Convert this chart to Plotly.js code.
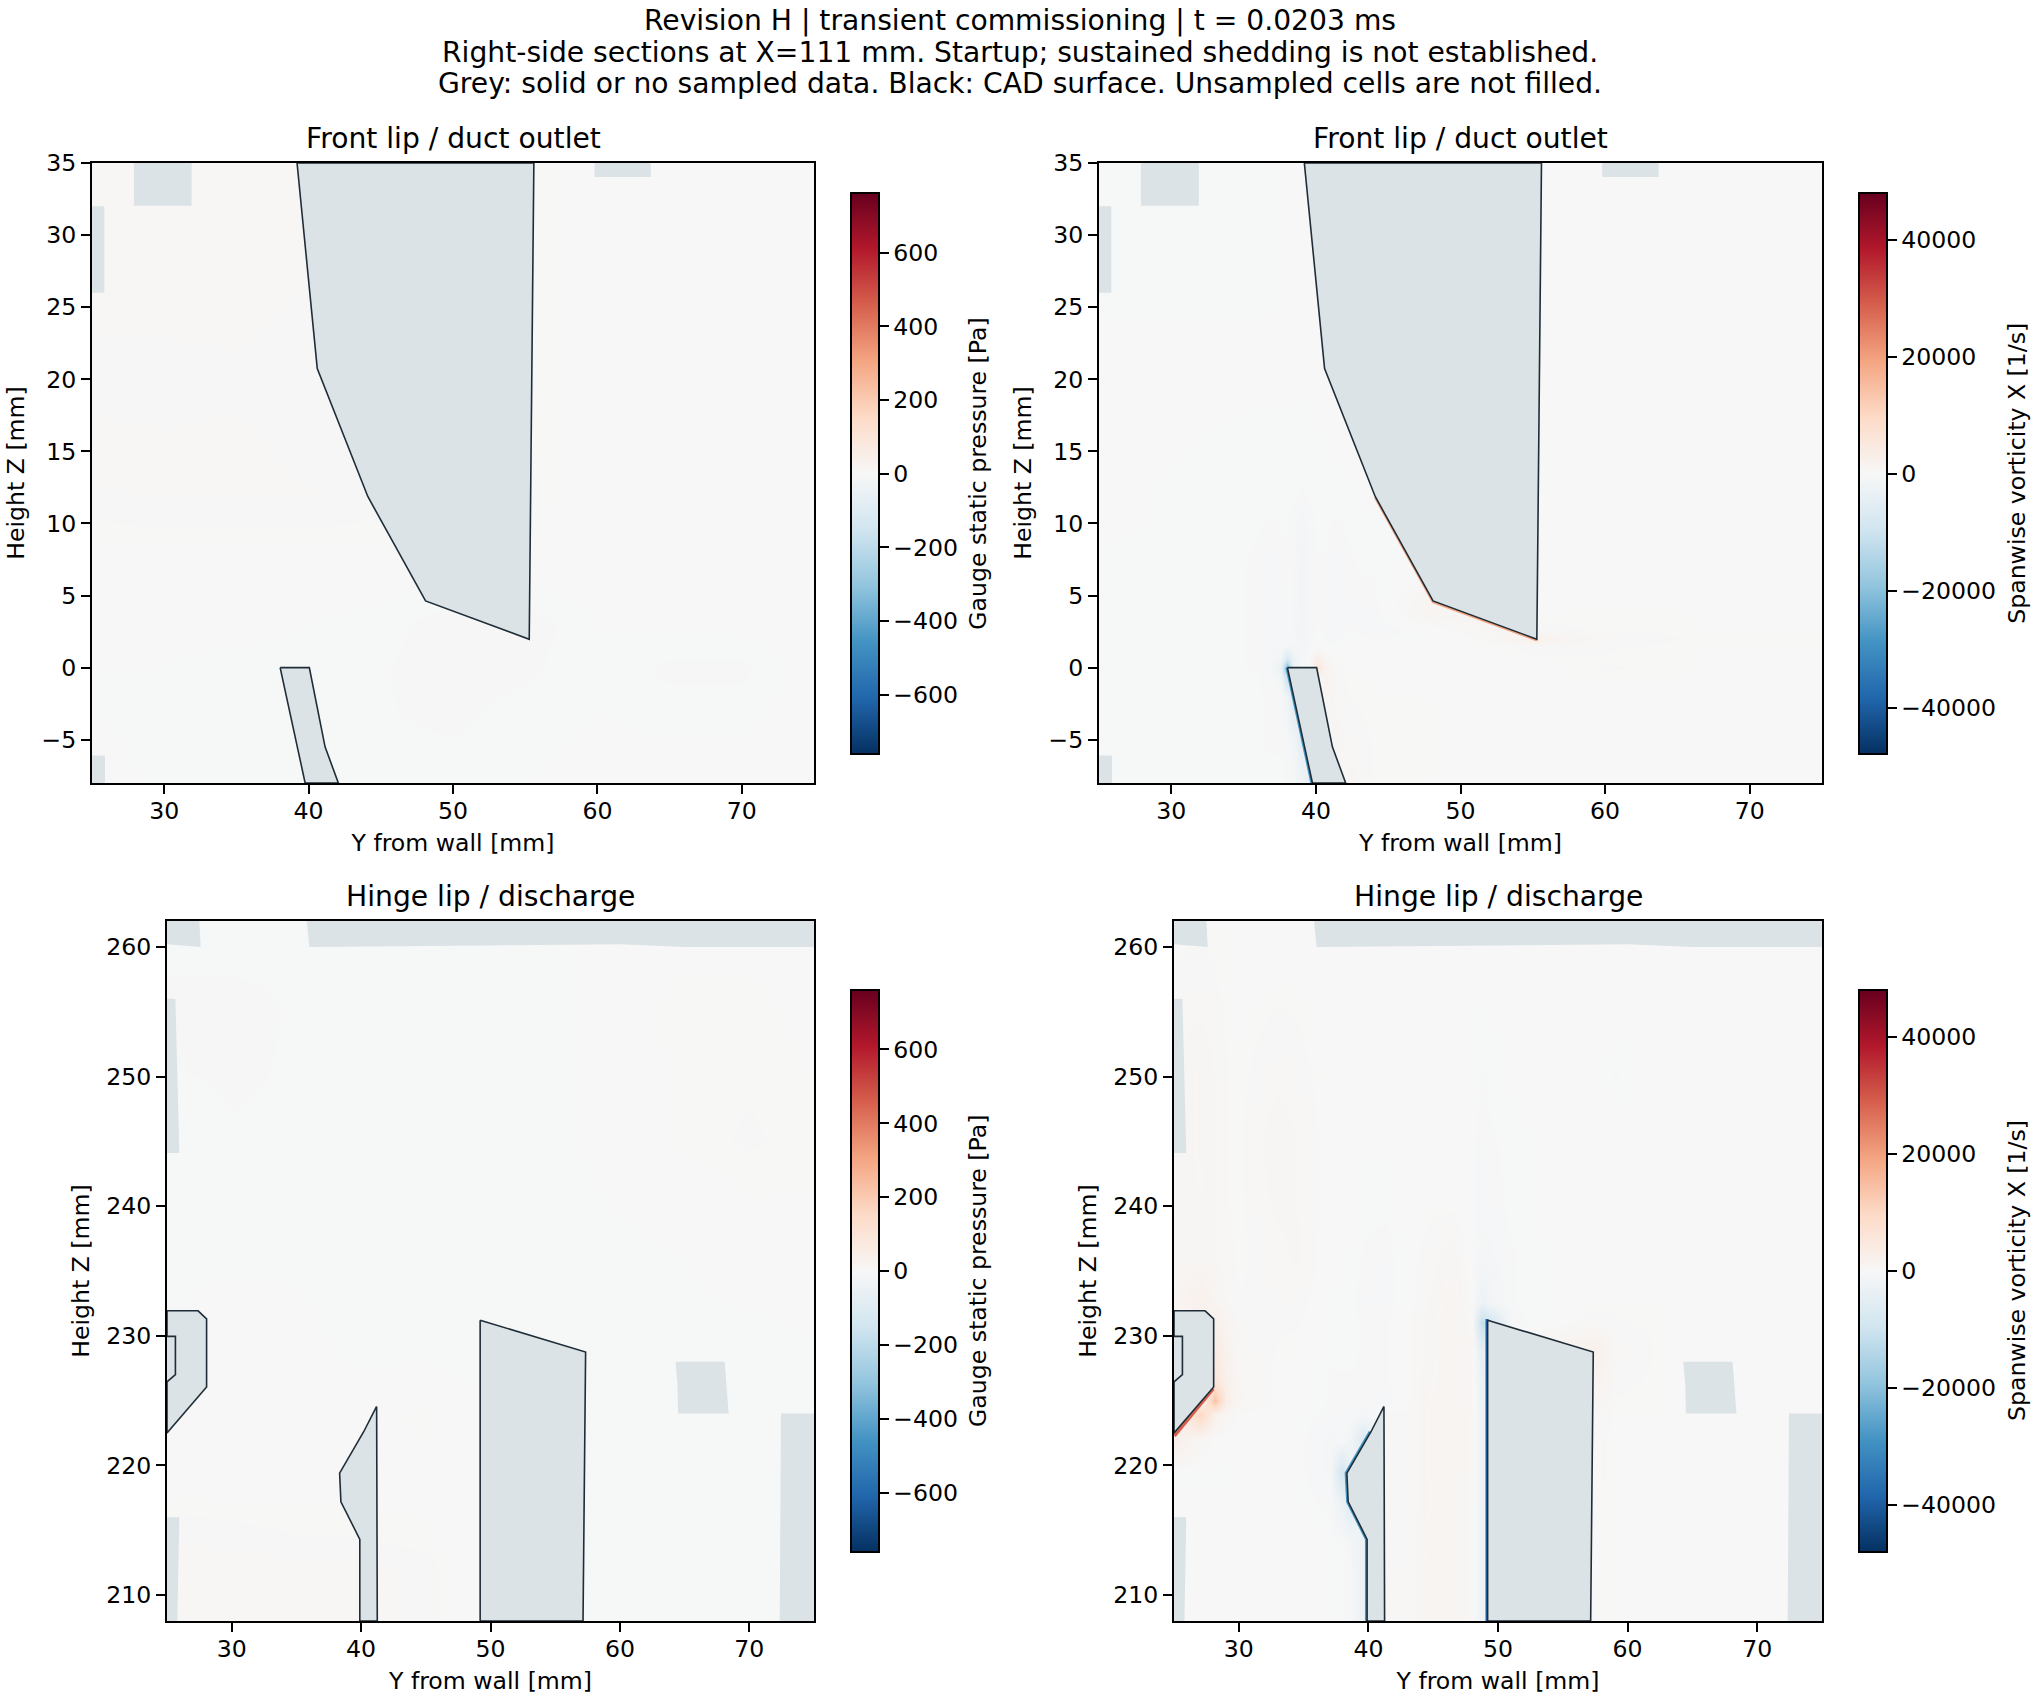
<!DOCTYPE html>
<html><head><meta charset="utf-8">
<script src="https://cdn.plot.ly/plotly-3.0.1.min.js"></script>
<style>html,body{margin:0;padding:0;background:#fff}</style></head>
<body><div id="chart" style="width:2040px;height:1700px"></div>
<script>
const titleLines = ["Revision H | transient commissioning | t = 0.0203 ms",
 "Right-side sections at X=111 mm. Startup; sustained shedding is not established.",
 "Grey: solid or no sampled data. Black: CAD surface. Unsampled cells are not filled."];
const frontTitle = "Front lip / duct outlet";
const hingeTitle = "Hinge lip / discharge";
const xLabel = "Y from wall [mm]";
const yLabel = "Height Z [mm]";
const pressureLabel = "Gauge static pressure [Pa]";
const vorticityLabel = "Spanwise vorticity X [1/s]";
const xTicks = [30,40,50,60,70];
const frontZTicks = [-5,0,5,10,15,20,25,30,35];
const hingeZTicks = [210,220,230,240,250,260];
const pressureTicks = [-600,-400,-200,0,200,400,600];
const vorticityTicks = [-40000,-20000,0,20000,40000];
const vorticityTickText = ["−40000","−20000","0","20000","40000"];
const pressureLimit = 761;
const vorticityLimit = 48000;
const rdbuStops = ["#053061","#2166ac","#4393c3","#92c5de","#d1e5f0","#f7f7f7","#fddbc7","#f4a582","#d6604d","#b2182b","#67001f"];

// CAD surfaces, [Y mm], [Z mm]
const frontDuctY = [39.2,40.6,44.1,48.1,55.28,55.6,39.2];
const frontDuctZ = [35,20.75,11.87,4.63,1.97,35,35];
const frontLipY = [38.03,40.05,41.14,42.06,39.76,38.03];
const frontLipZ = [0,0,-5.49,-8,-8,0];
const hingeCoveY = [25,27.4,28.06,28.06,25,25];
const hingeCoveZ = [231.93,231.93,231.3,226.05,222.5,231.93];
const hingeInnerY = [25,25.65,25.65,25];
const hingeInnerZ = [229.96,229.96,227,226.45];
const hingeLipY = [41.2,40.2,38.34,38.44,39.9,39.9,41.25,41.2];
const hingeLipZ = [224.55,222.6,219.4,217.2,214.3,208,208,224.55];
const hingeBlockY = [49.2,57.35,57.15,49.2,49.2];
const hingeBlockZ = [231.2,228.75,208,208,231.2];

// Unsampled patches
const frontGapY = [27.9,31.9,31.9,27.9,27.9,null,25,25.85,25.85,25,25,null,59.8,63.7,63.7,59.8,59.8,null,25,25.9,25.9,25,25];
const frontGapZ = [35,35,32.04,32.04,35,null,32,32,26,26,32,null,35,35,34.03,34.03,35,null,-6.1,-6.1,-8,-8,-6.1];
const hingeGapY = [25,27.5,27.6,26,25,25,null,35.8,75,75,65,60,50,36,35.8,null,25,25.65,25.95,25,25,null,25,25.95,25.8,25,25,null,64.3,68.1,68.4,64.5,64.45,64.3,null,72.45,75,75,72.35,72.45];
const hingeGapZ = [262,262,260,260.1,260.2,262,null,262,262,260,260,260.2,260.1,260,262,null,256,256,244.1,244.1,256,null,216,216,208,208,216,null,228,228,224,224,226.2,228,null,224,224,208,208,224];

// Pressure fields
const pressFrontY = [25,30,35,40,45,50,55,60,65,70,75];
const pressFrontZ = [-8,-3,0,3,8,12,14,20,28,35];
const pressFrontVal = [
 [0,-3,-3,-3,-3,-3,-2,-1,0,0,0],
 [-2,-3,-3,-3,-4,-5,-3,-2,-3,-3,0],
 [-2,-2,-3,-3,-4,-6,-5,-2,-5,-5,0],
 [0,-1,-1,-2,-3,-6,-6,-2,-1,-1,0],
 [1,1,1,1,1,1,1,1,1,0,0],
 [4,5,5,5,4,2,2,1,1,1,0],
 [7,6,6,4,3,2,2,1,1,1,0],
 [3,3,4,3,2,2,2,1,1,1,1],
 [8,8,7,5,3,2,2,1,1,1,1],
 [8,8,7,5,3,2,2,1,1,1,1]];
const pressHingeY = [25,30,35,40,45,50,55,60,65,70,75];
const pressHingeZ = [208,212,214,218,224,230,236,245,255,262];
const pressHingeVal = [
 [7,7,6,6,4,-2,-2,-3,-3,-3,-3],
 [7,7,6,6,4,-2,-2,-3,-3,-3,-3],
 [5,4,3,3,2,-2,-2,-3,-3,-3,-3],
 [1,1,1,1,1,-2,-2,-3,-3,-3,-3],
 [-2,-2,-1,1,2,-2,-2,-3,-3,-3,-3],
 [-2,1,0,-4,-4,-4,-4,-3,-3,-3,-2],
 [-3,-3,-3,-4,-4,-4,-4,-3,-2,0,1],
 [-3,-4,-4,-4,-4,-4,-3,0,2,3,2],
 [-5,-5,-4,-4,-4,-4,-3,1,2,2,1],
 [-3,-3,-4,-4,-4,-4,-3,1,1,1,1]];

// Vorticity fields
const vortFrontY = [25,32,36,36.8,37.6,38,38.4,39,39.6,40.1,40.6,41.4,42.4,44,48,52,55.3,57,60,66,75];
const vortFrontZ = [-8,-5,-2,-0.6,0,0.6,1.5,2,2.6,4,7,10,12,20,28,35];
const vortFrontVal = [
 [-150,-150,-200,-200,-200,-300,-500,-2000,-5000,0,0,0,700,150,100,100,100,100,100,100,100],
 [-150,-150,-250,-300,-300,-500,-1500,-5000,0,0,0,800,300,150,100,100,100,100,100,100,100],
 [-150,-150,-250,-300,-600,-2000,-7000,0,0,0,1200,300,150,100,100,100,100,100,100,100,100],
 [-150,-150,-250,-400,-1500,-12000,0,0,0,500,1500,300,100,100,100,100,100,100,100,100,100],
 [-150,-150,-300,-500,-4000,-22000,-2000,-800,-300,6000,2000,200,100,100,100,100,100,100,200,100,100],
 [-150,-150,-300,-500,-1500,-8000,-3000,-800,500,3000,800,100,50,50,50,50,100,100,150,100,100],
 [-150,-150,-300,-400,-500,-800,-800,-1000,-400,100,-200,-200,-100,-50,0,100,300,300,200,100,100],
 [-150,-150,-300,-400,-400,-500,-600,-1200,-400,-100,-300,-400,-100,-300,-100,200,2500,1000,400,150,100],
 [-150,-150,-300,-400,-400,-500,-600,-1300,-400,-200,-300,-600,-300,-500,-100,600,300,200,150,100,100],
 [-150,-150,-300,-500,-400,-400,-600,-1500,-500,-300,-400,-700,-400,-400,1200,500,0,100,100,100,100],
 [-150,-150,-300,-500,-300,-300,-600,-1500,-500,-300,-300,-500,-300,-200,0,0,0,100,100,100,100],
 [-100,-150,-250,-300,-250,-250,-400,-1000,-400,-200,-200,-300,-200,-200,0,0,0,100,100,100,100],
 [-100,-150,-200,-200,-200,-200,-200,-300,-200,-200,-200,-200,-150,200,0,0,0,100,100,100,100],
 [-100,-100,-100,-100,-100,-100,-100,-100,-100,-100,100,100,0,0,0,0,0,100,100,100,100],
 [-150,-150,-150,-150,-100,-100,-100,-100,-100,-100,-100,-50,0,0,0,0,0,100,100,100,100],
 [-150,-150,-150,-150,-100,-100,-100,-100,-100,-100,-100,-50,0,0,0,0,0,50,50,100,100]];
const vortHingeY = [25,27,28.2,29,30,33,34.5,37,38,38.6,39.6,41.4,43,44.5,46.5,48,48.8,49.4,51,57.3,58,59,63,75];
const vortHingeZ = [208,214,217,219.5,222,224,225,226.5,229,231,232.5,236,240,245,250,257,262];
const vortHingeVal = [
 [100,100,100,100,50,100,100,-100,-200,-400,-3000,500,200,1000,1100,300,-2500,0,0,0,150,100,100,100],
 [100,100,100,100,50,100,100,-100,-200,-800,-3000,400,200,900,1200,300,-2500,0,0,0,150,100,100,100],
 [-100,-100,-100,-100,-100,-50,-50,-400,-3000,-6000,0,400,200,800,1100,300,-2500,0,0,0,150,100,100,100],
 [-150,-150,-150,-150,-100,-100,-100,-800,-9000,-3000,0,400,200,800,1200,400,-2500,0,0,0,200,100,100,100],
 [3000,600,0,-50,-100,-100,-100,-800,-500,-1500,-7000,400,200,800,1200,400,-2500,0,0,0,200,100,100,100],
 [0,10000,2500,600,100,0,-50,-400,-300,-400,-800,300,200,800,1200,400,-2500,0,0,0,400,100,100,100],
 [0,0,14000,3500,600,100,0,-300,-300,-300,-300,-500,100,800,1200,500,-3000,0,0,500,800,150,100,100],
 [0,0,6000,2500,500,100,0,-300,-300,-300,-300,-300,100,700,1200,500,-3500,0,0,1000,1400,250,100,100],
 [0,0,4000,2000,400,150,100,-200,-200,-200,-300,-300,100,600,1200,500,-5000,0,0,2500,2000,400,100,100],
 [0,0,3000,1200,300,200,200,-200,-200,-200,-300,-300,100,600,1200,300,-12000,-9000,-400,300,300,200,100,100],
 [1000,2500,1200,500,200,300,300,-100,-200,-200,-400,-400,0,500,1100,0,-3000,-1500,-300,100,100,100,100,100],
 [600,700,500,300,100,400,600,-100,-100,-100,-300,-400,0,300,800,-200,-1000,-800,-300,100,100,100,100,100],
 [500,800,500,200,100,600,500,0,-100,-100,-200,-200,0,100,100,-200,-500,-400,-200,100,100,50,100,100],
 [500,900,500,200,100,800,500,0,-100,-100,-100,-100,0,50,50,-200,-400,-300,-200,100,100,50,100,100],
 [500,900,500,200,100,400,300,0,-50,-50,-50,-50,0,0,0,-100,-300,-200,-100,0,-100,-300,100,100],
 [200,300,200,100,50,100,100,0,0,0,0,0,0,0,0,-50,-100,-100,0,100,100,50,100,100],
 [100,100,100,100,50,50,50,0,0,0,0,0,0,0,0,0,0,0,50,100,100,100,100,100]];

// Sharp shear layers hugging the surfaces (vorticity panels)
const frontShearRedY = [44.1,48.1,55.28], frontShearRedZ = [11.8,4.55,1.9];
const frontShearBlueY = [38.0,39.72], frontShearBlueZ = [0,-8];
const hingeShearRedY = [25,28.0], hingeShearRedZ = [222.3,225.95];
const hingeShearBlueAY = [49.15,49.15], hingeShearBlueAZ = [208,231.3];
const hingeShearBlueBY = [39.85,39.85,38.4,38.28,40.13], hingeShearBlueBZ = [208,214.3,217.2,219.4,222.6];

const GREY = "#dbe3e6", EDGE = "#1f2d38", TEXT = "#000", FONT = "DejaVu Sans, sans-serif";
const TICKPX = 23.6, HEADPX = 28.2;
const W = 2040, H = 1700;
const colorscale = rdbuStops.map((c,i)=>[i/(rdbuStops.length-1),c]);
const panels = [
 {id:"", l:92,r:814,t:163,b:783, zr:[-8,35], zt:frontZTicks, title:frontTitle, kind:"p", fx:pressFrontY,fy:pressFrontZ,fz:pressFrontVal, hinge:false, cb:[851,879,193.5,754], cbt:978},
 {id:"2", l:1099,r:1822,t:163,b:783, zr:[-8,35], zt:frontZTicks, title:frontTitle, kind:"v", fx:vortFrontY,fy:vortFrontZ,fz:vortFrontVal, hinge:false, cb:[1859,1887,193.5,754], cbt:2017},
 {id:"3", l:167,r:814,t:921,b:1621, zr:[208,262], zt:hingeZTicks, title:hingeTitle, kind:"p", fx:pressHingeY,fy:pressHingeZ,fz:pressHingeVal, hinge:true, cb:[851,879,990,1552], cbt:978},
 {id:"4", l:1174,r:1822,t:921,b:1621, zr:[208,262], zt:hingeZTicks, title:hingeTitle, kind:"v", fx:vortHingeY,fy:vortHingeZ,fz:vortHingeVal, hinge:true, cb:[1859,1887,990,1552], cbt:2017}];

const data = [], annotations = [], layout = {
 width:W,height:H,autosize:false,margin:{l:0,r:0,t:0,b:0},
 paper_bgcolor:"#fff",plot_bgcolor:GREY,showlegend:false,hovermode:false,
 font:{family:FONT,size:TICKPX,color:TEXT}
};
const titleLineY = [21,52,83];
titleLines.forEach((t,i)=>annotations.push({xref:"paper",yref:"paper",x:0.5,y:1-titleLineY[i]/H,text:t,showarrow:false,xanchor:"center",yanchor:"middle",font:{family:FONT,size:HEADPX,color:TEXT}}));
panels.forEach(p=>{
 const xa="x"+p.id, ya="y"+p.id, lim=p.kind==="p"?pressureLimit:vorticityLimit;
 const common={xaxis:xa,yaxis:ya,hoverinfo:"skip"};
 data.push({...common,type:"heatmap",x:p.fx,y:p.fy,z:p.fz,zmin:-lim,zmax:lim,zsmooth:"best",colorscale,showscale:true,
  colorbar:{x:p.cb[0]/W,xanchor:"left",xpad:0,ypad:0,y:1-(p.cb[2]+p.cb[3])/2/H,yanchor:"middle",
   lenmode:"pixels",len:p.cb[3]-p.cb[2],thicknessmode:"pixels",thickness:p.cb[1]-p.cb[0],
   outlinewidth:2,outlinecolor:"#000",borderwidth:0,ticks:"outside",ticklen:9,tickwidth:2,tickcolor:"#000",
   tickmode:"array",tickvals:p.kind==="p"?pressureTicks:vorticityTicks,
   ticktext:p.kind==="p"?pressureTicks.map(v=>String(v).replace("-","−")):vorticityTickText,
   tickfont:{family:FONT,size:TICKPX,color:TEXT}}});
 const fillT=(x,y)=>({...common,type:"scatter",mode:"lines",x,y,fill:"toself",fillcolor:GREY,line:{width:0,color:GREY}});
 const solid=(x,y)=>({...common,type:"scatter",mode:"lines",x,y,fill:"toself",fillcolor:GREY,line:{width:1.6,color:EDGE}});
 const shear=(x,y,c,w)=>({...common,type:"scatter",mode:"lines",x,y,line:{width:w,color:c}});
 data.push(fillT(p.hinge?hingeGapY:frontGapY,p.hinge?hingeGapZ:frontGapZ));
 if(p.kind==="v"){
  if(!p.hinge){data.push(shear(frontShearRedY,frontShearRedZ,"#f4a582",2.5),shear(frontShearBlueY,frontShearBlueZ,"#4393c3",3));}
  else{data.push(shear(hingeShearRedY,hingeShearRedZ,"#d6604d",4.5),shear(hingeShearBlueAY,hingeShearBlueAZ,"#2166ac",3),shear(hingeShearBlueBY,hingeShearBlueBZ,"#4393c3",3));}
 }
 if(!p.hinge){data.push(solid(frontDuctY,frontDuctZ),solid(frontLipY,frontLipZ));}
 else{data.push(solid(hingeCoveY,hingeCoveZ),solid(hingeInnerY,hingeInnerZ),solid(hingeLipY,hingeLipZ),solid(hingeBlockY,hingeBlockZ));}
 const ax={showgrid:false,zeroline:false,showline:true,mirror:true,linecolor:"#000",linewidth:2,ticks:"outside",ticklen:9,tickwidth:2,tickcolor:"#000",
  tickfont:{family:FONT,size:TICKPX,color:TEXT},tickmode:"array"};
 layout["xaxis"+p.id]={...ax,domain:[p.l/W,p.r/W],range:[25,75],tickvals:xTicks,anchor:ya,ticklabelstandoff:-3,
  title:{text:xLabel,font:{family:FONT,size:TICKPX,color:TEXT},standoff:10}};
 layout["yaxis"+p.id]={...ax,domain:[1-p.b/H,1-p.t/H],range:p.zr,tickvals:p.zt,anchor:xa,
  title:{text:yLabel,font:{family:FONT,size:TICKPX,color:TEXT},standoff:10}};
 annotations.push({xref:"paper",yref:"paper",x:(p.l+p.r)/2/W,y:1-(p.t-25)/H,text:p.title,showarrow:false,xanchor:"center",yanchor:"middle",font:{family:FONT,size:HEADPX,color:TEXT}});
 annotations.push({xref:"paper",yref:"paper",x:p.cbt/W,y:1-(p.cb[2]+p.cb[3])/2/H,text:p.kind==="p"?pressureLabel:vorticityLabel,textangle:-90,showarrow:false,xanchor:"center",yanchor:"middle",font:{family:FONT,size:TICKPX,color:TEXT}});
});
layout.annotations=annotations;
Plotly.newPlot("chart",data,layout,{displayModeBar:false,staticPlot:true});
</script></body></html>
